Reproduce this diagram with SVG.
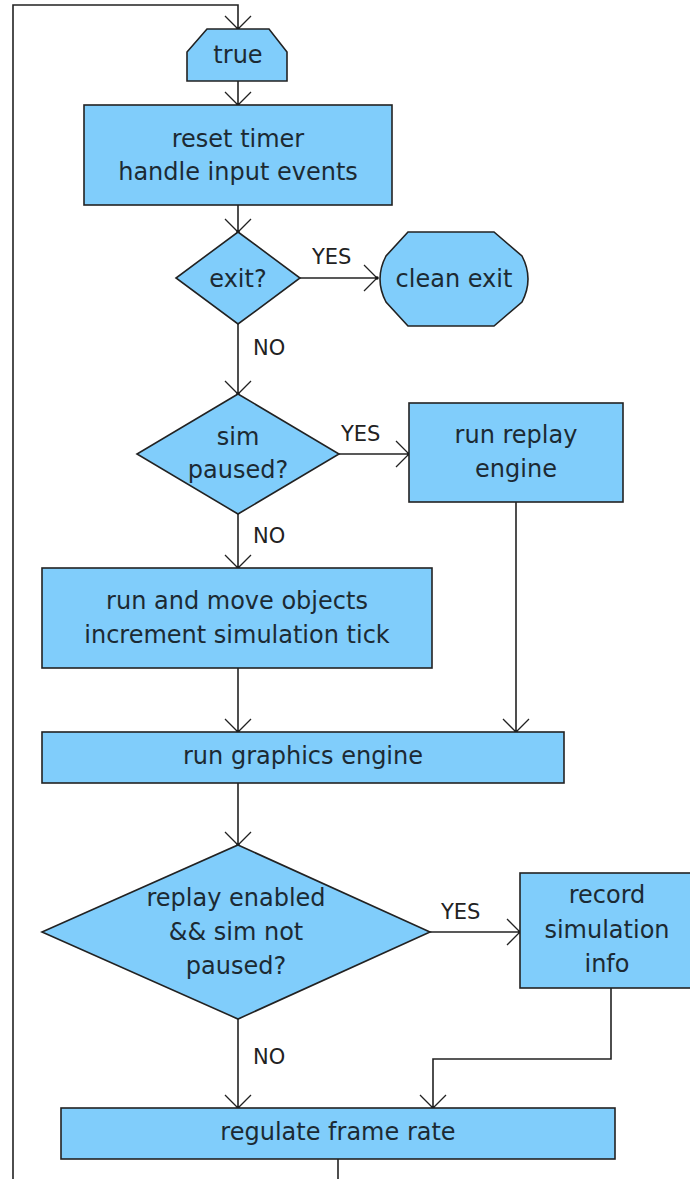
<svg xmlns="http://www.w3.org/2000/svg" width="690" height="1179" viewBox="0 0 690 1179">
<style>
.n{fill:#80CDFB;stroke:#222;stroke-width:1.6}
.t{font-family:"DejaVu Sans",sans-serif;font-size:24px;fill:#1c2a33;text-anchor:middle}
.l{font-family:"DejaVu Sans",sans-serif;font-size:21px;fill:#222}
.c{fill:none;stroke:#222;stroke-width:1.6}
</style>
<defs>
<marker id="a" markerUnits="userSpaceOnUse" markerWidth="30" markerHeight="30" refX="0" refY="0" viewBox="-15 -15 30 30" orient="auto" overflow="visible">
<path d="M-13,-13 L0,0 L-13,13" fill="none" stroke="#222" stroke-width="1.3"/>
<circle cx="0" cy="0" r="1.8" fill="#111"/>
</marker>
</defs>
<rect width="690" height="1179" fill="#fff"/>
<g id="connectors">
<path class="c" d="M13,1179 L13,5 L238,5 L238,29" marker-end="url(#a)"/>
<path class="c" d="M238,81 L238,105" marker-end="url(#a)"/>
<path class="c" d="M238,205 L238,232" marker-end="url(#a)"/>
<path class="c" d="M300,278 L377,278" marker-end="url(#a)"/>
<path class="c" d="M238,324 L238,394" marker-end="url(#a)"/>
<path class="c" d="M339,454 L409,454" marker-end="url(#a)"/>
<path class="c" d="M238,514 L238,568" marker-end="url(#a)"/>
<path class="c" d="M516,502 L516,732" marker-end="url(#a)"/>
<path class="c" d="M238,668 L238,732" marker-end="url(#a)"/>
<path class="c" d="M238,783 L238,845" marker-end="url(#a)"/>
<path class="c" d="M430,932 L520,932" marker-end="url(#a)"/>
<path class="c" d="M238,1019 L238,1108" marker-end="url(#a)"/>
<path class="c" d="M611,988 L611,1059 L433,1059 L433,1108" marker-end="url(#a)"/>
<path class="c" d="M338,1159 L338,1179"/>
<text class="l" x="312" y="264">YES</text>
<text class="l" x="253" y="355">NO</text>
<text class="l" x="341" y="441">YES</text>
<text class="l" x="253" y="543">NO</text>
<text class="l" x="441" y="919">YES</text>
<text class="l" x="253" y="1064">NO</text>
</g>
<g id="true">
<path class="n" d="M207,29 L269,29 L287,52 L287,81 L187,81 L187,52 Z"/>
<text class="t" x="238" y="63">true</text>
</g>
<g id="reset">
<rect class="n" x="84" y="105" width="308" height="100"/>
<text class="t" x="238" y="147">reset timer</text>
<text class="t" x="238" y="180">handle input events</text>
</g>
<g id="exit">
<polygon class="n" points="238,232 300,278 238,324 176,278"/>
<text class="t" x="238" y="287">exit?</text>
</g>
<g id="clean-exit">
<path class="n" d="M408,232 L494,232 L522,256 Q534,279 522,302 L494,326 L408,326 L386,302 Q374,279 386,256 Z"/>
<text class="t" x="454" y="287">clean exit</text>
</g>
<g id="sim-paused">
<polygon class="n" points="238,394 339,454 238,514 137,454"/>
<text class="t" x="238" y="445">sim</text>
<text class="t" x="238" y="478">paused?</text>
</g>
<g id="replay-engine">
<rect class="n" x="409" y="403" width="214" height="99"/>
<text class="t" x="516" y="443">run replay</text>
<text class="t" x="516" y="477">engine</text>
</g>
<g id="run-move">
<rect class="n" x="42" y="568" width="390" height="100"/>
<text class="t" x="237" y="609">run and move objects</text>
<text class="t" x="237" y="643">increment simulation tick</text>
</g>
<g id="graphics">
<rect class="n" x="42" y="732" width="522" height="51"/>
<text class="t" x="303" y="764">run graphics engine</text>
</g>
<g id="replay-enabled">
<polygon class="n" points="238,845 430,932 238,1019 42,932"/>
<text class="t" x="236" y="906">replay enabled</text>
<text class="t" x="236" y="940">&amp;&amp; sim not</text>
<text class="t" x="236" y="974">paused?</text>
</g>
<g id="record">
<rect class="n" x="520" y="873" width="174" height="115"/>
<text class="t" x="607" y="903">record</text>
<text class="t" x="607" y="938">simulation</text>
<text class="t" x="607" y="972">info</text>
</g>
<g id="regulate">
<rect class="n" x="61" y="1108" width="554" height="51"/>
<text class="t" x="338" y="1140">regulate frame rate</text>
</g>
</svg>
